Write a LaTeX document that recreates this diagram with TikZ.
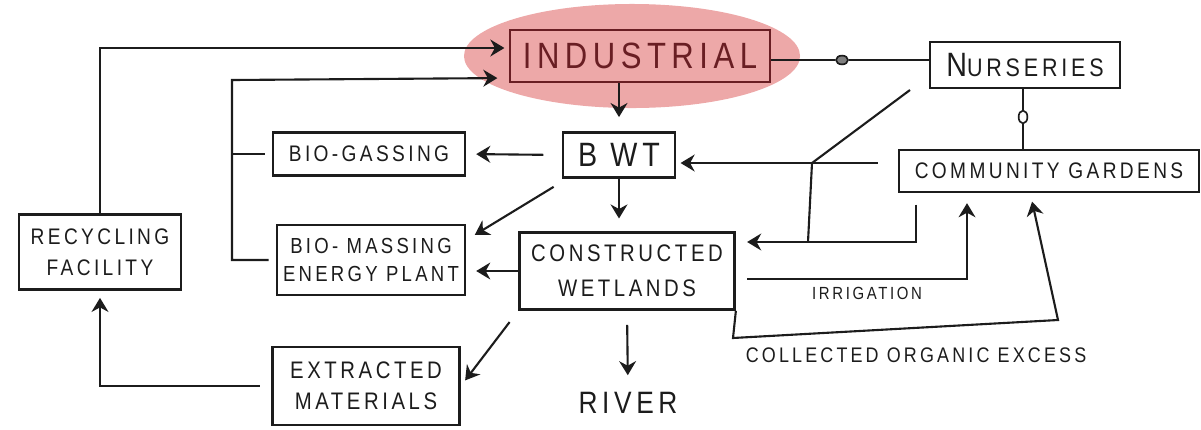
\documentclass[tikz,border=0pt]{standalone}
\usepackage{fontspec}
\newfontfamily\hand[FakeStretch=0.85, LetterSpace=15]{Liberation Sans}
\usetikzlibrary{arrows.meta, shapes.geometric}
\definecolor{ink}{RGB}{28,28,28}
\definecolor{glow}{RGB}{237,168,168}
\definecolor{wine}{RGB}{105,30,35}

\begin{document}
\begin{tikzpicture}[x=0.025cm, y=-0.025cm,
  box/.style={draw=ink, line width=1.9pt, inner sep=0pt,
              align=center, text=ink},
  arr/.style={draw=ink, line width=1.5pt,
              -{Stealth[length=10pt,width=12pt]}, shorten >=3pt},
  wire/.style={draw=ink, line width=1.5pt},
  lbl/.style={text=ink, inner sep=0pt}
]
  \useasboundingbox (0,0) rectangle (1201,429);
  \fill[glow] (632,56) ellipse [x radius=4.2cm, y radius=1.3cm];

  % boxes
  \node[box, draw=wine, text=wine, minimum width=6.5cm, minimum height=1.3cm,
        font={\fontsize{26}{30}\hand}]                (ind)  at (640,56)  {INDUSTRIAL};
  \node[box, minimum width=4.75cm, minimum height=1.15cm] (nur) at (1025,65)
        {{\fontsize{24}{28}\hand N}{\fontsize{18}{22}\hand URSERIES}};
  \node[box, minimum width=7.5cm, minimum height=1.05cm,
        font={\fontsize{16}{20}\hand}]                (cg)   at (1049,171) {COMMUNITY GARDENS};
  \node[box, minimum width=2.8cm, minimum height=1.125cm,
        font={\fontsize{24}{28}\hand}]                (bwt)  at (619,155) {B WT};
  \node[box, minimum width=4.8cm, minimum height=1.075cm,
        font={\fontsize{16}{20}\hand}]                (gas)  at (369,154) {BIO-GASSING};
  \node[box, minimum width=4.7cm, minimum height=1.75cm,
        font={\fontsize{15.5}{20}\hand}]              (mass) at (371,260) {BIO- MASSING\\ENERGY PLANT};
  \node[box, minimum width=4.05cm, minimum height=1.875cm,
        font={\fontsize{16}{22}\hand}]                (rec)  at (100,252) {RECYCLING\\FACILITY};
  \node[box, minimum width=5.375cm, minimum height=1.925cm,
        font={\fontsize{17}{25}\hand}]                (wet)  at (627,271) {CONSTRUCTED\\WETLANDS};
  \node[box, minimum width=4.675cm, minimum height=1.95cm,
        font={\fontsize{17}{22}\hand}]                (ext)  at (366,386) {EXTRACTED\\MATERIALS};
  \node[lbl, font={\fontsize{22}{26}\hand}]           (river) at (628,403) {RIVER};
  \node[lbl, font={\fontsize{12.5}{15}\hand}]         (irr)  at (867,293) {IRRIGATION};
  \node[lbl, font={\fontsize{15}{18}\hand}]           (coll) at (916,355) {COLLECTED ORGANIC EXCESS};

  \node[draw=ink, fill=gray, line width=1.2pt, ellipse, inner sep=0pt,
        minimum width=0.3cm, minimum height=0.22cm]   (dot)  at (842,60) {};
  \node[draw=ink, line width=1.2pt, ellipse, inner sep=0pt,
        minimum width=0.22cm, minimum height=0.32cm]  (ring) at (1023,117) {};

  \coordinate (lp) at (232,80);
  \coordinate (j)  at (812,163);
  \coordinate (k)  at (808,242);
  \coordinate (nd) at (910,90);
  \coordinate (ir) at (967,279);
  \coordinate (c1) at (733,338);
  \coordinate (c2) at (1058,320);
  \coordinate (c3) at (1030,192);

  % connectors
  \draw[arr] (rec.north) |- ([yshift=0.2cm]ind.west);
  \draw[wire, shorten <=5pt] (gas.west) -- (gas.west -| lp);
  \draw[arr, shorten <=5pt, shorten >=8pt] (mass.west) -| (lp) -- ([yshift=-0.55cm]ind.west);
  \draw[arr, shorten >=10pt] (bwt.north |- ind.south) -- (bwt.north);
  \draw[arr, shorten <=13pt, shorten >=7pt] (bwt.west) -- (gas.east);
  \draw[arr, shorten >=7pt] ([xshift=-0.2cm,yshift=-0.2cm]bwt.south west) -- ([yshift=0.5cm]mass.east);
  \draw[arr, shorten >=9pt] (bwt.south) -- (bwt.south |- wet.north);
  \draw[arr, shorten >=7pt] (wet.west) -- (wet.west -| mass.east);
  \draw[arr, shorten <=10pt, shorten >=5pt] (wet.south west) -- (ext.east);
  \draw[arr, shorten <=10pt, shorten >=12pt] (wet.south) -- (river.north);
  \draw[arr, shorten <=8pt, shorten >=5pt] (ext.west) -| (rec.south);
  \draw[wire] (ind.east |- dot) -- (dot) -- (nur.west |- dot);
  \draw[wire] (nur.south -| ring) -- (ring) -- (cg.north -| ring);
  \draw[arr, shorten <=14pt] (cg.west |- j) -- (bwt.east |- j);
  \draw[wire] (nd) -- (j) -- (k);
  \draw[arr, shorten <=8pt, shorten >=8pt] ([xshift=0.45cm]cg.south west) |- (wet.east |- k);
  \draw[arr, shorten <=8pt, shorten >=7pt] (wet.east |- ir) -- (ir) -- (ir |- cg.south);
  \draw[arr, shorten >=7pt] (wet.south east) -- (c1) -- (c2) -- (c3);
\end{tikzpicture}
\end{document}
